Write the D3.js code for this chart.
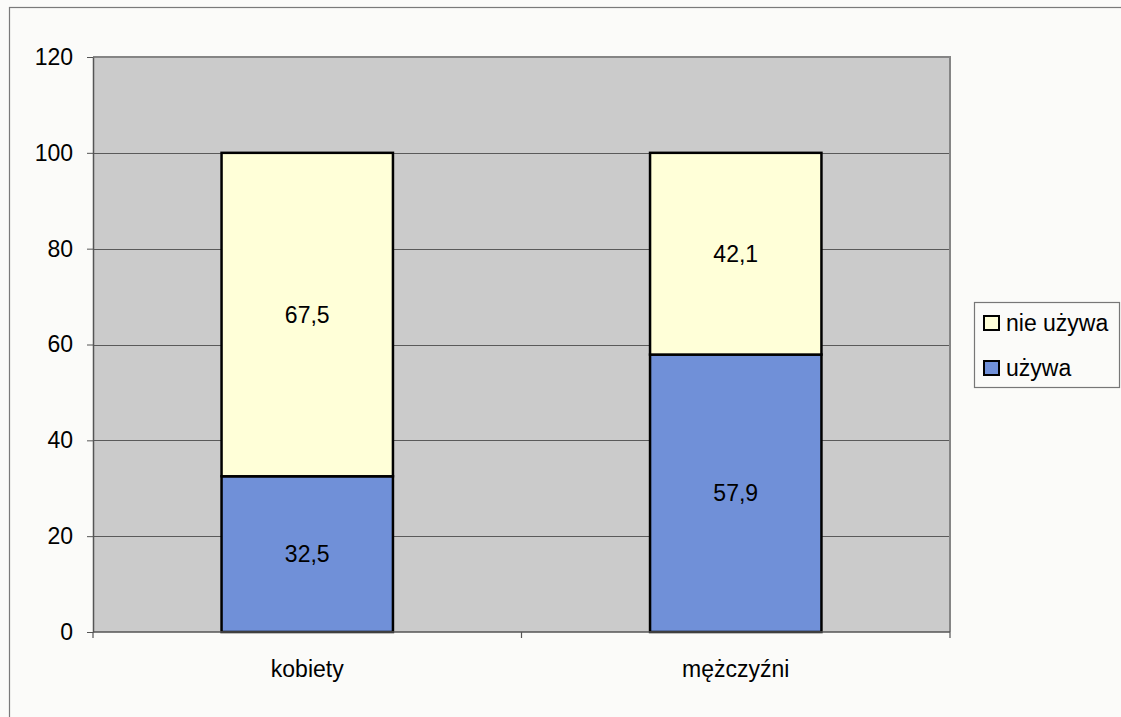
<!DOCTYPE html>
<html>
<head>
<meta charset="utf-8">
<script src="https://cdn.jsdelivr.net/npm/d3@7"></script>
<style>
  html, body { margin: 0; padding: 0; background: #fbfbf9; }
  svg { display: block; font-family: "Liberation Sans", Arial, sans-serif; }
</style>
</head>
<body>
<svg id="chart" width="1121" height="717"></svg>
<script>
// Share of people using / not using, by sex (percent)
const categories = ["kobiety", "mężczyźni"];
const seriesNames = ["używa", "nie używa"];
const uzywa = [32.5, 57.9];
const nieUzywa = [67.5, 42.1];
const yTicks = [0, 20, 40, 60, 80, 100, 120];

const colors = { "używa": "#7090d8", "nie używa": "#ffffd8" };
const FONT = 23;

const svg = d3.select("#chart");

// outer chart frame
svg.append("rect")
  .attr("x", 9.5).attr("y", 7.5)
  .attr("width", 1130).attr("height", 730)
  .attr("fill", "none").attr("stroke", "#7a7a7a").attr("stroke-width", 1.2);

const plot = { left: 93, right: 950, top: 57, bottom: 632 };

const x = d3.scaleBand()
  .domain(categories)
  .range([plot.left, plot.right])
  .paddingInner(0.6)
  .paddingOuter(0.3);

const y = d3.scaleLinear().domain([0, 120]).range([plot.bottom, plot.top]);

// plot area background
svg.append("rect")
  .attr("x", plot.left).attr("y", plot.top)
  .attr("width", plot.right - plot.left).attr("height", plot.bottom - plot.top)
  .attr("fill", "#cbcbcb");

// gridlines
svg.append("g").selectAll("line")
  .data(yTicks.filter(t => t > 0))
  .join("line")
  .attr("x1", plot.left).attr("x2", plot.right)
  .attr("y1", d => Math.round(y(d)) + 0.5).attr("y2", d => Math.round(y(d)) + 0.5)
  .attr("stroke", "#5a5a5a").attr("stroke-width", 1);

// plot area border (top/right)
svg.append("path")
  .attr("d", `M${plot.left},${plot.top}H${plot.right}V${plot.bottom}`)
  .attr("fill", "none").attr("stroke", "#858585").attr("stroke-width", 2);

// stacked data
const rows = categories.map((c, i) => ({ cat: c, "używa": uzywa[i], "nie używa": nieUzywa[i] }));
const stacked = d3.stack().keys(seriesNames)(rows);

const fmt = v => String(v).replace(".", ",");

stacked.forEach(layer => {
  const g = svg.append("g");
  g.selectAll("rect")
    .data(layer)
    .join("rect")
    .attr("x", d => x(d.data.cat))
    .attr("width", x.bandwidth())
    .attr("y", d => y(d[1]))
    .attr("height", d => y(d[0]) - y(d[1]))
    .attr("fill", colors[layer.key])
    .attr("stroke", "#000")
    .attr("stroke-width", 2.5);
  g.selectAll("text")
    .data(layer)
    .join("text")
    .attr("x", d => x(d.data.cat) + x.bandwidth() / 2)
    .attr("y", d => (y(d[0]) + y(d[1])) / 2)
    .attr("dy", "0.35em")
    .attr("text-anchor", "middle")
    .attr("font-size", FONT)
    .attr("fill", "#000")
    .text(d => fmt(d.data[layer.key]));
});

// y axis
const yAxis = svg.append("g")
  .attr("transform", `translate(${plot.left},0)`)
  .call(d3.axisLeft(y).tickValues(yTicks).tickSize(6).tickPadding(14).tickSizeOuter(0));
yAxis.select(".domain").attr("stroke", "#555").attr("stroke-width", 1.5);
yAxis.selectAll(".tick line").attr("stroke", "#555");
yAxis.selectAll(".tick text")
  .attr("font-size", FONT).attr("fill", "#000")
  .attr("font-family", "'Liberation Sans', Arial, sans-serif");

// x axis line with category separators
const xAxis = svg.append("g")
  .attr("transform", `translate(0,${plot.bottom})`);
xAxis.append("line")
  .attr("x1", plot.left).attr("x2", plot.right)
  .attr("stroke", "#555").attr("stroke-width", 1.5);
const bounds = [plot.left, (plot.left + plot.right) / 2, plot.right];
xAxis.selectAll("line.sep")
  .data(bounds)
  .join("line").attr("class", "sep")
  .attr("x1", d => d).attr("x2", d => d)
  .attr("y1", 0).attr("y2", 6)
  .attr("stroke", "#555").attr("stroke-width", 1.2);
xAxis.selectAll("text")
  .data(categories)
  .join("text")
  .attr("x", d => x(d) + x.bandwidth() / 2)
  .attr("y", 45)
  .attr("text-anchor", "middle")
  .attr("font-size", FONT)
  .attr("fill", "#000")
  .text(d => d);

// legend
const legend = svg.append("g").attr("transform", "translate(974,302)");
legend.append("rect")
  .attr("x", 0.5).attr("y", 0.5).attr("width", 145).attr("height", 85)
  .attr("fill", "none").attr("stroke", "#777").attr("stroke-width", 1.2);
const legendItems = ["nie używa", "używa"];
legendItems.forEach((k, i) => {
  const yy = 21 + i * 45;
  legend.append("rect")
    .attr("x", 10).attr("y", yy - 7).attr("width", 15).attr("height", 14)
    .attr("fill", colors[k]).attr("stroke", "#000").attr("stroke-width", 2);
  legend.append("text")
    .attr("x", 32).attr("y", yy).attr("dy", "0.35em")
    .attr("font-size", FONT).attr("fill", "#000")
    .text(k);
});
</script>
</body>
</html>
